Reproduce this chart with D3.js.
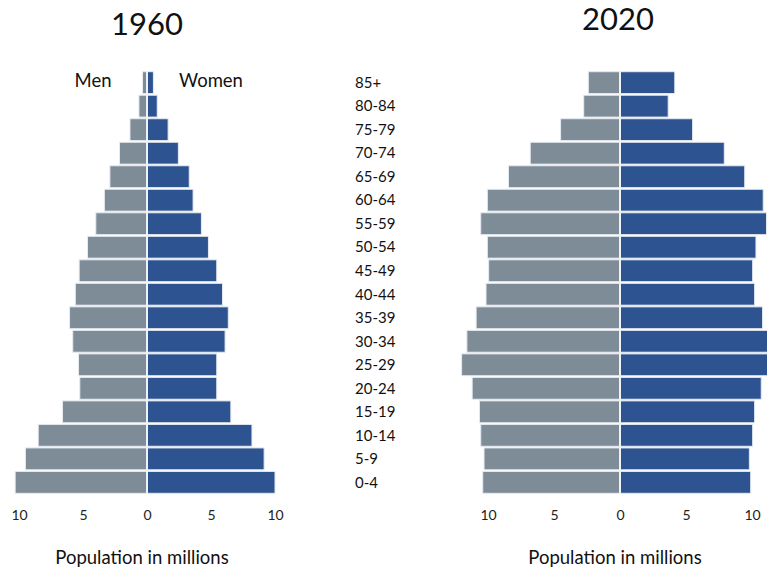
<!DOCTYPE html>
<html>
<head>
<meta charset="utf-8">
<script src="https://cdn.jsdelivr.net/npm/d3@7"></script>
<style>
  html, body { margin: 0; padding: 0; background: #fff; }
  svg { display: block; font-family: Lato, "Open Sans", sans-serif; }
</style>
</head>
<body>
<svg id="chart" width="767" height="569"></svg>
<script>
// Age groups, oldest at the top
const ageGroups = ["85+", "80-84", "75-79", "70-74", "65-69", "60-64", "55-59", "50-54", "45-49",
                   "40-44", "35-39", "30-34", "25-29", "20-24", "15-19", "10-14", "5-9", "0-4"];

// Population in millions, 1960
const men1960   = [0.35, 0.63, 1.33, 2.15, 2.9, 3.33, 4.0, 4.65, 5.3, 5.6, 6.05, 5.8, 5.35, 5.25, 6.6, 8.5, 9.5, 10.3];
const women1960 = [0.5, 0.8, 1.65, 2.45, 3.3, 3.6, 4.25, 4.8, 5.45, 5.9, 6.35, 6.1, 5.45, 5.45, 6.55, 8.2, 9.15, 10.0];

// Population in millions, 2020
const men2020   = [2.4, 2.75, 4.5, 6.8, 8.45, 10.05, 10.55, 10.05, 9.95, 10.15, 10.9, 11.6, 12.0, 11.2, 10.65, 10.55, 10.3, 10.4];
const women2020 = [4.15, 3.65, 5.5, 7.9, 9.45, 10.85, 11.1, 10.3, 10.05, 10.2, 10.8, 11.4, 11.6, 10.7, 10.2, 10.05, 9.8, 9.9];

const tickValues = [-10, -5, 0, 5, 10];

const menColor = "#7e8c98";
const womenColor = "#2d5491";

const svg = d3.select("#chart");

const y = d3.scaleBand().domain(ageGroups).range([71, 494]).paddingInner(0.07).paddingOuter(0.03);

function pyramid(opts) {
  const x = d3.scaleLinear().domain([-10, 10]).range([opts.center - opts.half, opts.center + opts.half]);
  const g = svg.append("g");

  g.selectAll("rect.men").data(ageGroups).join("rect")
    .attr("class", "men")
    .attr("x", (d, i) => x(-opts.men[i]))
    .attr("y", d => y(d))
    .attr("width", (d, i) => x(0) - x(-opts.men[i]))
    .attr("height", y.bandwidth())
    .attr("fill", menColor)
    .attr("stroke", "#e6ebf1").attr("stroke-width", 1);

  g.selectAll("rect.women").data(ageGroups).join("rect")
    .attr("class", "women")
    .attr("x", x(0))
    .attr("y", d => y(d))
    .attr("width", (d, i) => x(opts.women[i]) - x(0))
    .attr("height", y.bandwidth())
    .attr("fill", womenColor)
    .attr("stroke", "#e6ebf1").attr("stroke-width", 1);

  // Centre divider
  g.append("line")
    .attr("x1", x(0)).attr("x2", x(0))
    .attr("y1", y.range()[0]).attr("y2", y.range()[1])
    .attr("stroke", "#eef2f7").attr("stroke-width", 2);

  // Population axis (absolute values on both sides)
  const axis = d3.axisBottom(x).tickValues(tickValues).tickSize(0).tickFormat(d => Math.abs(d));
  const ax = g.append("g").attr("transform", `translate(0, 507)`).call(axis);
  ax.select(".domain").remove();
  ax.selectAll("text").attr("font-size", 14).attr("fill", "#222").attr("font-family", "Lato, sans-serif");

  g.append("text")
    .attr("x", opts.center + opts.titleDx).attr("y", opts.titleY)
    .attr("text-anchor", "middle").attr("font-size", 31).attr("fill", "#111")
    .text(opts.title);

  g.append("text")
    .attr("x", opts.center - 5).attr("y", 564)
    .attr("text-anchor", "middle").attr("font-size", 18.5).attr("fill", "#111")
    .text("Population in millions");

  return x;
}

pyramid({ center: 147, half: 128, men: men1960, women: women1960, title: "1960", titleY: 35, titleDx: 0 });
pyramid({ center: 620, half: 132, men: men2020, women: women2020, title: "2020", titleY: 30, titleDx: -2 });

// Sex labels on the 1960 pyramid
svg.append("text").attr("x", 93).attr("y", 87).attr("text-anchor", "middle")
  .attr("font-size", 18.5).attr("fill", "#111").text("Men");
svg.append("text").attr("x", 211).attr("y", 87).attr("text-anchor", "middle")
  .attr("font-size", 18.5).attr("fill", "#111").text("Women");

// Age group labels between the pyramids
svg.append("g").selectAll("text").data(ageGroups).join("text")
  .attr("x", 355)
  .attr("y", d => y(d) + y.bandwidth() / 2)
  .attr("dy", "0.35em")
  .attr("font-size", 15).attr("fill", "#111")
  .text(d => d);
</script>
</body>
</html>
